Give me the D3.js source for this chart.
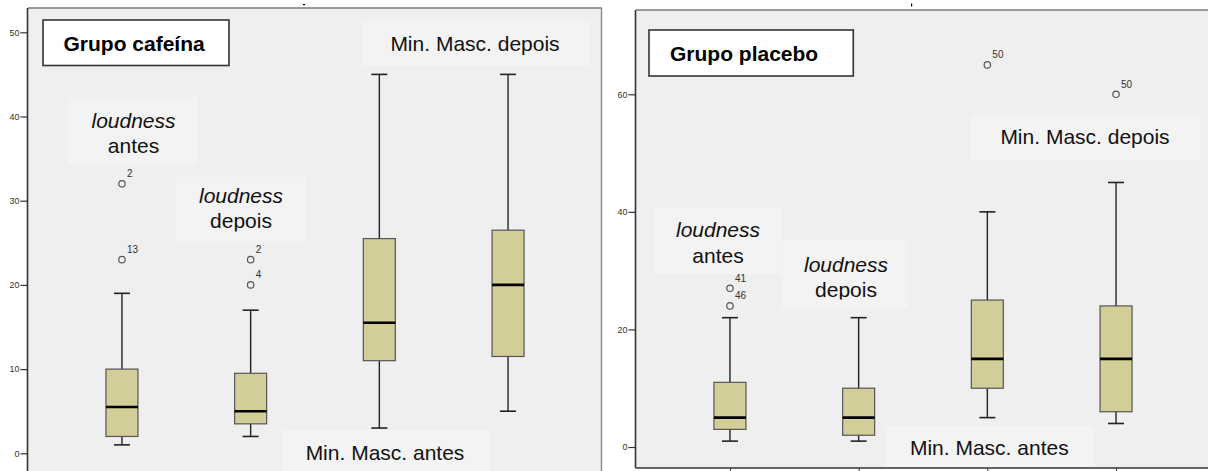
<!DOCTYPE html>
<html>
<head>
<meta charset="utf-8">
<script src="https://cdn.jsdelivr.net/npm/d3@7"></script>
<style>
  html, body { margin: 0; padding: 0; background: #ffffff; }
  svg { display: block; }
  text { font-family: "Liberation Sans", Arial, sans-serif; }
</style>
</head>
<body>
<svg id="chart" width="1208" height="471"></svg>
<script>
// ---------------- DATA ----------------
const categories = ["loudness antes", "loudness depois", "Min. Masc. antes", "Min. Masc. depois"];
const groups = ["Grupo cafeína", "Grupo placebo"];

// Grupo cafeína
const cafLow    = [1, 2, 3, 5];
const cafQ1     = [2, 3.5, 11, 11.5];
const cafMedian = [5.5, 5, 15.5, 20];
const cafQ3     = [10, 9.5, 25.5, 26.5];
const cafHigh   = [19, 17, 45, 45];
const cafOutliers = [
  [{ v: 32, id: "2" }, { v: 23, id: "13" }],
  [{ v: 23, id: "2" }, { v: 20, id: "4" }],
  [],
  []
];
const cafTicks = [0, 10, 20, 30, 40, 50];

// Grupo placebo
const plaLow    = [1, 1, 5, 4];
const plaQ1     = [3, 2, 10, 6];
const plaMedian = [5, 5, 15, 15];
const plaQ3     = [11, 10, 25, 24];
const plaHigh   = [22, 22, 40, 45];
const plaOutliers = [
  [{ v: 27, id: "41" }, { v: 24, id: "46" }],
  [],
  [{ v: 65, id: "50" }],
  [{ v: 60, id: "50" }]
];
const plaTicks = [0, 20, 40, 60];

// ---------------- LAYOUT ----------------
const svg = d3.select("#chart");
const boxFill = "#d3ce98";
const plotBg = "#efefef";
const noteBg = "#f3f3f3";

function buildStats(low, q1, med, q3, high, outl) {
  return categories.map((c, i) => ({
    cat: c, low: low[i], q1: q1[i], med: med[i], q3: q3[i], high: high[i], out: outl[i]
  }));
}

const panels = [
  {
    title: groups[0],
    stats: buildStats(cafLow, cafQ1, cafMedian, cafQ3, cafHigh, cafOutliers),
    ticks: cafTicks,
    x0: 28, x1: 602, top: 8, bottom: 482,
    yDomain: [0, 50], yRange: [453.3, 32.3],
    showBottom: false,
    titleBox: { x: 43, y: 20, w: 186, h: 45.5, tx: 63.5, ty: 50.5 },
    notes: [
      { box: [68, 97.7, 130, 67.3], lines: [["loudness", true, 128.3], ["antes", false, 153]], cx: 133.5 },
      { box: [176, 176.7, 130, 65], lines: [["loudness", true, 203.3], ["depois", false, 228.3]], cx: 241, clip: 231.5 },
      { box: [361, 20, 229, 46], lines: [["Min. Masc. depois", false, 50.5]], cx: 475 },
      { box: [281.7, 430, 207.3, 50], lines: [["Min. Masc. antes", false, 459.5]], cx: 385 }
    ]
  },
  {
    title: groups[1],
    stats: buildStats(plaLow, plaQ1, plaMedian, plaQ3, plaHigh, plaOutliers),
    ticks: plaTicks,
    x0: 636, x1: 1210, top: 10, bottom: 468,
    yDomain: [0, 60], yRange: [447, 94.3],
    showBottom: true,
    titleBox: { x: 649, y: 30, w: 204.3, h: 46, tx: 670, ty: 60.5 },
    notes: [
      { box: [653, 208, 128.7, 66], lines: [["loudness", true, 237.3], ["antes", false, 262.7]], cx: 718 },
      { box: [781.7, 240, 126, 68.3], lines: [["loudness", true, 271.7], ["depois", false, 296.7]], cx: 846, clip: 299.5 },
      { box: [971, 114.3, 229, 46.7], lines: [["Min. Masc. depois", false, 143.5]], cx: 1085 },
      { box: [885, 426, 208.3, 50], lines: [["Min. Masc. antes", false, 454.5]], cx: 989.3 }
    ]
  }
];

const defs = svg.append("defs");

panels.forEach((p, pi) => {
  const g = svg.append("g");
  const clipId = "clip" + pi;
  defs.append("clipPath").attr("id", clipId)
    .append("rect").attr("x", p.x0).attr("y", p.top).attr("width", p.x1 - p.x0).attr("height", p.bottom - p.top);

  const x = d3.scalePoint().domain(categories).range([p.x0, p.x1]).padding(0.73);
  const y = d3.scaleLinear().domain(p.yDomain).range(p.yRange);
  const boxW = 32, capW = 16;

  // plot background
  g.append("rect").attr("x", p.x0).attr("y", p.top)
    .attr("width", p.x1 - p.x0).attr("height", p.bottom - p.top)
    .attr("fill", plotBg);

  const inner = g.append("g").attr("clip-path", `url(#${clipId})`);

  // boxplots
  const bx = inner.selectAll("g.box").data(p.stats).join("g").attr("class", "box");
  bx.append("line")
    .attr("x1", d => x(d.cat)).attr("x2", d => x(d.cat))
    .attr("y1", d => y(d.q3)).attr("y2", d => y(d.high))
    .attr("stroke", "#222").attr("stroke-width", 1.4);
  bx.append("line")
    .attr("x1", d => x(d.cat)).attr("x2", d => x(d.cat))
    .attr("y1", d => y(d.q1)).attr("y2", d => y(d.low))
    .attr("stroke", "#222").attr("stroke-width", 1.4);
  bx.append("line")
    .attr("x1", d => x(d.cat) - capW / 2).attr("x2", d => x(d.cat) + capW / 2)
    .attr("y1", d => y(d.high)).attr("y2", d => y(d.high))
    .attr("stroke", "#222").attr("stroke-width", 1.6);
  bx.append("line")
    .attr("x1", d => x(d.cat) - capW / 2).attr("x2", d => x(d.cat) + capW / 2)
    .attr("y1", d => y(d.low)).attr("y2", d => y(d.low))
    .attr("stroke", "#222").attr("stroke-width", 1.6);
  bx.append("rect")
    .attr("x", d => x(d.cat) - boxW / 2).attr("width", boxW)
    .attr("y", d => y(d.q3)).attr("height", d => y(d.q1) - y(d.q3))
    .attr("fill", boxFill).attr("stroke", "#555").attr("stroke-width", 1.2);
  bx.append("line")
    .attr("x1", d => x(d.cat) - boxW / 2).attr("x2", d => x(d.cat) + boxW / 2)
    .attr("y1", d => y(d.med)).attr("y2", d => y(d.med))
    .attr("stroke", "#000").attr("stroke-width", 2.6);

  // outliers
  const outs = p.stats.flatMap(d => d.out.map(o => ({ cat: d.cat, v: o.v, id: o.id })));
  inner.selectAll("circle.out").data(outs).join("circle").attr("class", "out")
    .attr("cx", d => x(d.cat)).attr("cy", d => y(d.v)).attr("r", 3.2)
    .attr("fill", "none").attr("stroke", "#555").attr("stroke-width", 1.2);
  inner.selectAll("text.outl").data(outs).join("text").attr("class", "outl")
    .attr("x", d => x(d.cat) + 5).attr("y", d => y(d.v) - 6.5)
    .attr("font-size", 10).attr("fill", "#333").text(d => d.id);

  // annotation boxes
  p.notes.forEach((n, ni) => {
    const cid = `nclip${pi}_${ni}`;
    const clipBottom = n.clip !== undefined ? n.clip : n.box[1] + n.box[3];
    defs.append("clipPath").attr("id", cid)
      .append("rect").attr("x", n.box[0]).attr("y", n.box[1])
      .attr("width", n.box[2]).attr("height", clipBottom - n.box[1]);
    inner.append("rect").attr("x", n.box[0]).attr("y", n.box[1])
      .attr("width", n.box[2]).attr("height", n.box[3]).attr("fill", noteBg);
    const tg = inner.append("g").attr("clip-path", `url(#${cid})`);
    n.lines.forEach(([t, it, by]) => {
      tg.append("text").attr("x", n.cx).attr("y", by)
        .attr("text-anchor", "middle").attr("font-size", 21)
        .attr("font-style", it ? "italic" : "normal")
        .attr("fill", "#111").text(t);
    });
  });

  // title box
  const tb = p.titleBox;
  inner.append("rect").attr("x", tb.x).attr("y", tb.y).attr("width", tb.w).attr("height", tb.h)
    .attr("fill", "#fff").attr("stroke", "#333").attr("stroke-width", 1.6);
  inner.append("text").attr("x", tb.tx).attr("y", tb.ty)
    .attr("font-size", 21).attr("font-weight", "bold").attr("fill", "#000").text(p.title);

  // frame: top and right gray
  g.append("line").attr("x1", p.x0).attr("x2", p.x1).attr("y1", p.top).attr("y2", p.top)
    .attr("stroke", "#7a7a7a").attr("stroke-width", 1.6);
  g.append("line").attr("x1", p.x1 - 0.5).attr("x2", p.x1 - 0.5).attr("y1", p.top).attr("y2", p.bottom)
    .attr("stroke", "#8a8a8a").attr("stroke-width", 1.4);

  // y axis
  const ax = g.append("g").attr("transform", `translate(${p.x0 - 0.5},0)`)
    .call(d3.axisLeft(y).tickValues(p.ticks).tickSize(7).tickPadding(1).tickSizeOuter(0));
  ax.select(".domain").remove();
  ax.selectAll(".tick line").attr("stroke", "#333").attr("stroke-width", 1.2);
  ax.selectAll(".tick text").attr("font-size", 9).attr("fill", "#333")
    .attr("font-family", "'Liberation Sans', Arial, sans-serif");
  g.append("line").attr("x1", p.x0 - 0.5).attr("x2", p.x0 - 0.5).attr("y1", p.top).attr("y2", p.bottom)
    .attr("stroke", "#333").attr("stroke-width", 1.6);

  if (p.showBottom) {
    const bax = g.append("g").attr("transform", `translate(0,${p.bottom})`)
      .call(d3.axisBottom(x).tickSize(4).tickFormat(""));
    bax.select(".domain").remove();
    bax.selectAll(".tick line").attr("stroke", "#333");
    g.append("line").attr("x1", p.x0 - 0.5).attr("x2", p.x1).attr("y1", p.bottom).attr("y2", p.bottom)
      .attr("stroke", "#333").attr("stroke-width", 1.6);
  }

  // small stray mark above the panel
  g.append("rect").attr("x", p.x0 + 275).attr("y", pi === 0 ? 4 : 3.5)
    .attr("width", pi === 0 ? 2 : 1.2).attr("height", pi === 0 ? 1.2 : 3).attr("fill", "#000");
});
</script>
</body>
</html>
